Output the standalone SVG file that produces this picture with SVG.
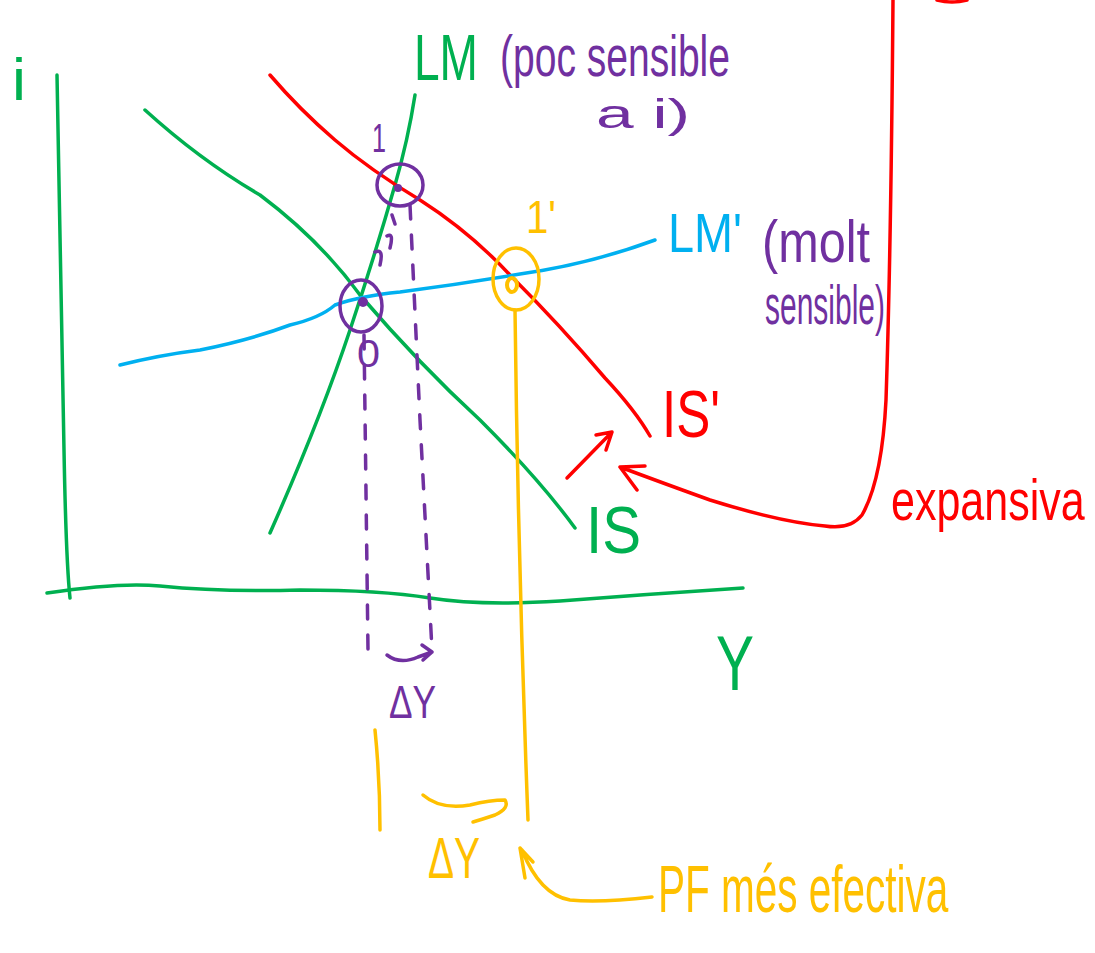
<svg xmlns="http://www.w3.org/2000/svg" width="1095" height="953" viewBox="0 0 1095 953">
<style>
.s{fill:none;stroke-width:3.5;stroke-linecap:round;stroke-linejoin:round}
.g{stroke:#00B050}.r{stroke:#FF0000}.b{stroke:#00B0F0}.p{stroke:#7030A0}.y{stroke:#FFC000}
.t{font-family:"Liberation Sans",Arial,sans-serif}
.tg{fill:#00B050}.tr{fill:#FF0000}.tb{fill:#00B0F0}.tp{fill:#7030A0}.ty{fill:#FFC000}
.d{stroke-dasharray:14 16}
</style>
<rect width="1095" height="953" fill="#fff"/>
<g id="axes">
<path class="s g" d="M57,75 Q62,300 64,450 Q66,560 70,598"/>
<path class="s g" d="M47,593 Q120,582 160,586 Q220,592 300,590 Q380,590 430,598 Q480,606 560,601 Q650,594 743,588"/>
<text class="t tg" x="12" y="100" font-size="60" textLength="14" lengthAdjust="spacingAndGlyphs">i</text>
<text class="t tg" x="716" y="690" font-size="78" textLength="38" lengthAdjust="spacingAndGlyphs">Y</text>
</g>
<g id="IS">
<path class="s g" d="M145,110 Q200,160 260,195 Q320,240 360,295 Q420,365 480,420 Q540,480 575,528"/>
<text class="t tg" x="586" y="553" font-size="66" textLength="55" lengthAdjust="spacingAndGlyphs">IS</text>
</g>
<g id="LM">
<path class="s g" d="M270,533 Q320,420 350,330 Q375,255 395,185 Q408,140 415,95"/>
<text class="t tg" x="414" y="80" font-size="64" textLength="64" lengthAdjust="spacingAndGlyphs">LM</text>
<text class="t tp" x="500" y="76" font-size="58" textLength="230" lengthAdjust="spacingAndGlyphs">(poc sensible</text>
<text class="t tp" x="596" y="128" font-size="40" textLength="94" lengthAdjust="spacingAndGlyphs">a i)</text>
</g>
<g id="IS2">
<path class="s r" d="M270,75 Q300,110 335,140 Q370,170 420,200 Q470,232 510,275 Q560,325 605,378 Q635,410 650,436"/>
<text class="t tr" x="662" y="437" font-size="66" textLength="58" lengthAdjust="spacingAndGlyphs">IS'</text>
</g>
<g id="LM2">
<path class="s b" d="M120,365 Q160,355 200,350 Q250,340 290,325 Q320,318 335,305 Q360,296 400,292 Q460,284 520,274 Q590,264 655,240"/>
<text class="t tb" x="668" y="252" font-size="56" textLength="74" lengthAdjust="spacingAndGlyphs">LM'</text>
<text class="t tp" x="762" y="262" font-size="60" textLength="108" lengthAdjust="spacingAndGlyphs">(molt</text>
<text class="t tp" x="765" y="324" font-size="56" textLength="120" lengthAdjust="spacingAndGlyphs">sensible)</text>
</g>
<g id="point1">
<ellipse class="s p" cx="400" cy="185" rx="23" ry="21"/>
<circle cx="398" cy="188" r="4" fill="#7030A0"/>
<text class="t tp" x="372" y="152" font-size="40" textLength="14" lengthAdjust="spacingAndGlyphs">1</text>
</g>
<g id="point0">
<ellipse class="s p" cx="361" cy="306" rx="21" ry="26"/>
<circle cx="363" cy="302" r="5" fill="#7030A0"/>
<text class="t tp" x="357" y="367" font-size="38" textLength="23" lengthAdjust="spacingAndGlyphs">0</text>
</g>
<g id="point1b">
<ellipse class="s y" cx="516" cy="279" rx="23" ry="31"/>
<ellipse cx="512" cy="285" rx="5" ry="7" fill="none" stroke="#FFC000" stroke-width="4"/>
<text class="t ty" x="526" y="233" font-size="46" textLength="30" lengthAdjust="spacingAndGlyphs">1'</text>
</g>
<g id="labels">
<text class="t tr" transform="translate(891,520) scale(1,1.35)" font-size="43">expansiva</text>
<text class="t tp" x="389" y="718" font-size="46" textLength="47" lengthAdjust="spacingAndGlyphs">ΔY</text>
<text class="t ty" x="428" y="878" font-size="58" textLength="52" lengthAdjust="spacingAndGlyphs">ΔY</text>
<text class="t ty" transform="translate(658,912) scale(1,1.65)" font-size="40.5">PF més efectiva</text>
</g>
<g id="connectors">
<path class="s p" d="M392,215 L395,224 M387,236 Q394,232 390,248 M375,252 Q384,248 380,265"/>
<path class="s p d" d="M364,335 L368,650"/>
<path class="s p d" d="M410,205 L420,420 L432,650"/>
<path class="s p" d="M387,655 Q400,665 418,657 L432,652 M422,645 L432,652 L423,660"/>
<path class="s y" d="M515,310 Q518,560 528,820"/>
<path class="s y" d="M375,730 Q380,780 380,830"/>
<path class="s y" d="M423,795 Q440,810 470,805 Q490,800 505,800 Q510,808 495,815 Q480,820 473,822"/>
<path class="s y" d="M652,897 Q600,903 570,900 Q540,895 522,850 M520,848 L525,878 M520,848 L533,862"/>
<path class="s r" d="M567,478 L612,432 M596,435 L612,432 L606,450"/>
<path class="s r" d="M893,0 Q891,250 886,400 Q882,480 862,515 Q850,530 825,526 Q780,522 710,500 Q660,482 620,467 M620,467 L645,466 M620,467 L637,490"/>
<path class="s r" d="M937,0 Q952,4 967,0"/>
</g>
</svg>
